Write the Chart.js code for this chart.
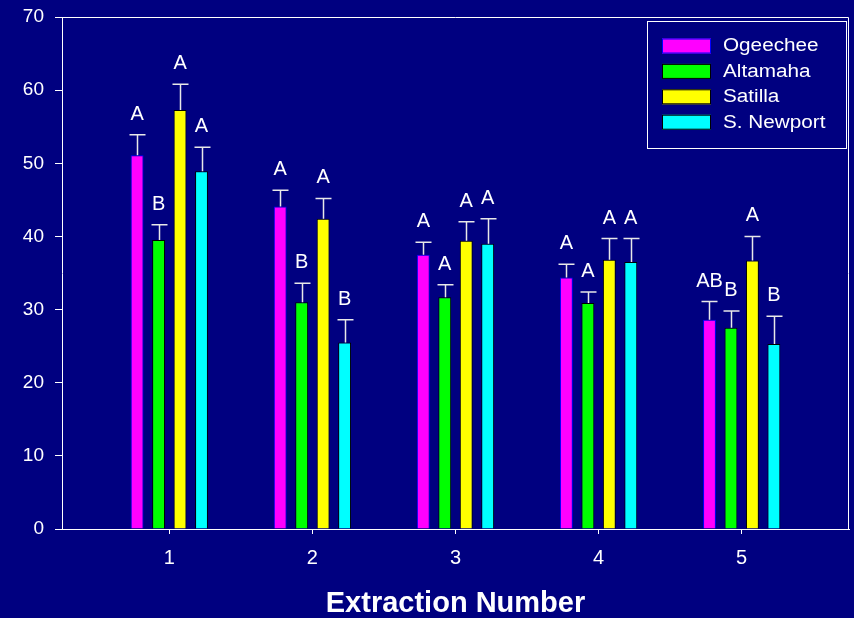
<!DOCTYPE html>
<html>
<head>
<meta charset="utf-8">
<script src="https://cdn.jsdelivr.net/npm/chart.js@4/dist/chart.umd.min.js"></script>
<style>
  html, body { margin: 0; padding: 0; background: #000080; }
  #wrap { width: 854px; height: 618px; }
</style>
</head>
<body>
<div id="wrap"><canvas id="c" width="854" height="618"></canvas></div>
<script>
// Extraction groups and tick labels
const extractions = [1, 2, 3, 4, 5];
const xTickLabels = ['1', '2', '3', '4', '5'];
const yTicks = [0, 10, 20, 30, 40, 50, 60, 70];

// Series names
const seriesNames = ['Ogeechee', 'Altamaha', 'Satilla', 'S. Newport'];

// Mean values per extraction
const ogeechee = [51.1, 44.1, 37.5, 34.4, 28.6];
const altamaha = [39.5, 31.0, 31.7, 30.9, 27.5];
const satilla  = [57.3, 42.4, 39.4, 36.8, 36.7];
const sNewport = [48.9, 25.5, 39.0, 36.5, 25.3];

// Upper error (standard error) per extraction
const ogeecheeErr = [2.8, 2.2, 1.7, 1.8, 2.5];
const altamahaErr = [2.1, 2.6, 1.7, 1.5, 2.3];
const satillaErr  = [3.5, 2.8, 2.6, 2.9, 3.3];
const sNewportErr = [3.3, 3.1, 3.4, 3.2, 3.8];

// Significance letters
const ogeecheeLetters = ['A', 'A', 'A', 'A', 'AB'];
const altamahaLetters = ['B', 'B', 'A', 'A', 'B'];
const satillaLetters  = ['A', 'A', 'A', 'A', 'A'];
const sNewportLetters = ['A', 'B', 'A', 'A', 'B'];

const FONT = "'Liberation Sans', Arial, Helvetica, sans-serif";
const WHITE = '#ffffff';

const fills   = ['#ff00ff', '#00ff00', '#ffff00', '#00ffff'];
const borders = ['#0000ff', '#000000', '#000000', '#000000'];
const values  = [ogeechee, altamaha, satilla, sNewport];
const errs    = [ogeecheeErr, altamahaErr, satillaErr, sNewportErr];
const letters = [ogeecheeLetters, altamahaLetters, satillaLetters, sNewportLetters];

const datasets = seriesNames.map((name, s) => ({
  label: name,
  data: extractions.map((x, i) => ({ x: x, y: values[s][i] })),
  errors: errs[s],
  letters: letters[s],
  backgroundColor: fills[s],
  borderColor: borders[s],
  borderWidth: 1,
  categoryPercentage: 0.6,
  barPercentage: 0.6
}));

// Background fill
const backgroundPlugin = {
  id: 'background',
  beforeDraw(chart) {
    const ctx = chart.ctx;
    ctx.save();
    ctx.fillStyle = '#000080';
    ctx.fillRect(0, 0, chart.width, chart.height);
    ctx.restore();
  }
};

// Top and right frame lines of the plot box
const framePlugin = {
  id: 'frame',
  afterDraw(chart) {
    const { ctx, chartArea: a } = chart;
    ctx.save();
    ctx.strokeStyle = WHITE;
    ctx.lineWidth = 1;
    ctx.beginPath();
    ctx.moveTo(a.left, a.top + 0.5);
    ctx.lineTo(a.right - 0.5, a.top + 0.5);
    ctx.lineTo(a.right - 0.5, a.bottom);
    ctx.stroke();
    ctx.restore();
  }
};

// Upper error whiskers and significance letters
const errorPlugin = {
  id: 'errorBars',
  afterDatasetsDraw(chart) {
    const ctx = chart.ctx;
    const yScale = chart.scales.y;
    ctx.save();
    chart.data.datasets.forEach((ds, di) => {
      const meta = chart.getDatasetMeta(di);
      meta.data.forEach((bar, i) => {
        const v = ds.data[i].y;
        const top = yScale.getPixelForValue(v + ds.errors[i]);
        const x = Math.round(bar.x) + 0.5;
        ctx.strokeStyle = '#e8e8e8';
        ctx.lineWidth = 1.5;
        ctx.beginPath();
        ctx.moveTo(x, bar.y);
        ctx.lineTo(x, top);
        ctx.moveTo(x - 8, top);
        ctx.lineTo(x + 8, top);
        ctx.stroke();
        ctx.fillStyle = WHITE;
        ctx.font = '20px ' + FONT;
        ctx.textAlign = 'center';
        ctx.textBaseline = 'alphabetic';
        ctx.fillText(ds.letters[i], bar.x, top - 15);
      });
    });
    ctx.restore();
  }
};

// Boxed legend in the upper right of the plot
const legendBoxPlugin = {
  id: 'legendBox',
  afterDraw(chart) {
    const ctx = chart.ctx;
    const a = chart.chartArea;
    const boxRight = a.right - 3;
    const boxLeft = boxRight - 199;
    const boxTop = a.top + 4;
    const boxBottom = boxTop + 127;
    ctx.save();
    ctx.strokeStyle = WHITE;
    ctx.lineWidth = 1;
    ctx.strokeRect(boxLeft + 0.5, boxTop + 0.5, boxRight - boxLeft, boxBottom - boxTop);
    chart.data.datasets.forEach((ds, i) => {
      const cy = boxTop + 24.5 + i * 25.4;
      ctx.fillStyle = ds.backgroundColor;
      ctx.fillRect(boxLeft + 15, cy - 7, 49, 15);
      ctx.strokeStyle = ds.borderColor;
      ctx.strokeRect(boxLeft + 15.5, cy - 6.5, 48, 14);
      ctx.fillStyle = WHITE;
      ctx.font = '18px ' + FONT;
      ctx.textAlign = 'left';
      ctx.textBaseline = 'middle';
      ctx.save();
      ctx.translate(boxLeft + 76, cy + 1);
      ctx.scale(1.15, 1);
      ctx.fillText(ds.label, 0, 0);
      ctx.restore();
    });
    ctx.restore();
  }
};

new Chart(document.getElementById('c'), {
  type: 'bar',
  data: { datasets: datasets },
  plugins: [backgroundPlugin, errorPlugin, framePlugin, legendBoxPlugin],
  options: {
    responsive: false,
    animation: false,
    devicePixelRatio: 1,
    layout: { padding: { top: 17, right: 5, left: 0, bottom: 0 } },
    plugins: {
      legend: { display: false },
      tooltip: { enabled: false },
      title: {
        display: true,
        text: 'Extraction Number',
        position: 'bottom',
        fullSize: false,
        color: WHITE,
        font: { family: FONT, size: 29, weight: 'bold', lineHeight: 1 },
        padding: { top: 7, bottom: 0 }
      }
    },
    scales: {
      x: {
        type: 'linear',
        min: 0.25,
        max: 5.75,
        offset: false,
        grid: { drawOnChartArea: false, tickLength: 5, color: WHITE, offset: false },
        border: { color: WHITE, width: 1 },
        ticks: {
          color: WHITE,
          font: { family: FONT, size: 20 },
          padding: 12,
          callback: (v) => {
            const k = extractions.indexOf(v);
            return k >= 0 ? xTickLabels[k] : '';
          }
        },
        afterBuildTicks: (s) => { s.ticks = extractions.map(v => ({ value: v })); },
        afterFit: (s) => { s.height = 53; }
      },
      y: {
        min: 0,
        max: 70,
        grid: { drawOnChartArea: false, tickLength: 7, color: WHITE },
        border: { color: WHITE, width: 1 },
        ticks: {
          color: WHITE,
          font: { family: FONT, size: 19 },
          padding: 11
        },
        afterBuildTicks: (s) => { s.ticks = yTicks.map(v => ({ value: v })); },
        afterFit: (s) => { s.width = 62; s.paddingTop = 0; s.paddingBottom = 0; }
      }
    }
  }
});
</script>
</body>
</html>
